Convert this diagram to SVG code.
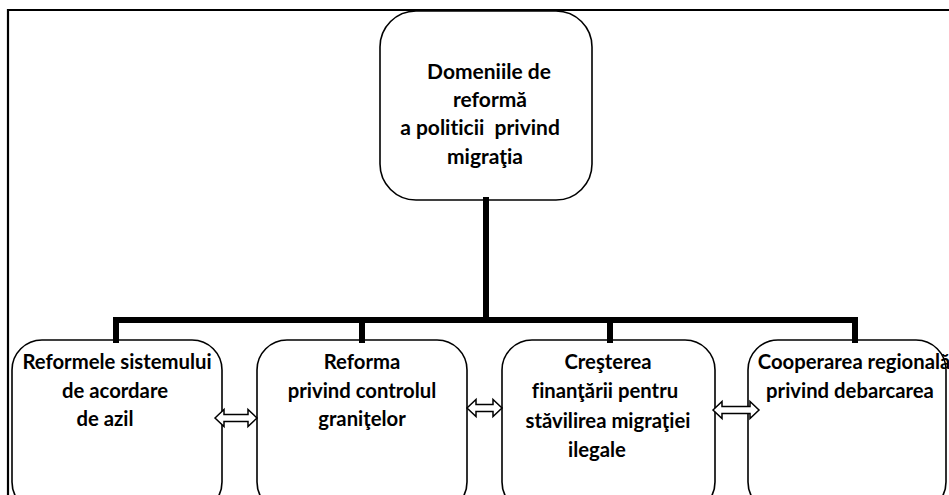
<svg xmlns="http://www.w3.org/2000/svg" width="949" height="495" viewBox="0 0 949 495">
<style>
.box{fill:#fff;stroke:#000;stroke-width:1.6}
.t{font-family:Lato,"Liberation Sans",sans-serif;font-weight:bold;fill:#000;text-anchor:middle;font-variant-ligatures:none;font-feature-settings:"liga" 0,"clig" 0,"dlig" 0}
.top{font-size:21px}
.bot{font-size:20.3px}
.bar{stroke:#000;stroke-width:6;fill:none;stroke-linecap:square}
.dbl{fill:#fff;stroke:#000;stroke-width:1.5;stroke-linejoin:miter}
</style>
<path d="M8,495 V10 H949" fill="none" stroke="#000" stroke-width="2.2"/>
<g id="node-root">
<rect class="box" x="380" y="11" width="212" height="189" rx="36" ry="36"/>
<text class="t top" x="489" y="79">Domeniile de</text>
<text class="t top" x="490" y="107">reformă</text>
<text class="t top" x="480" y="135" xml:space="preserve">a politicii  privind</text>
<text class="t top" x="485" y="164">migraţia</text>
</g>
<g id="node-azil">
<rect class="box" x="12" y="340" width="210" height="172" rx="30" ry="30"/>
<text class="t bot" x="117" y="369">Reformele sistemului</text>
<text class="t bot" x="115" y="398">de acordare</text>
<text class="t bot" x="105" y="426">de azil</text>
</g>
<g id="node-granite">
<rect class="box" x="257" y="340" width="210" height="172" rx="30" ry="30"/>
<text class="t bot" x="362" y="369">Reforma</text>
<text class="t bot" x="362" y="398">privind controlul</text>
<text class="t bot" x="362" y="426">graniţelor</text>
</g>
<g id="node-finantare">
<rect class="box" x="502" y="340" width="213" height="172" rx="30" ry="30"/>
<text class="t bot" x="608" y="369">Creşterea</text>
<text class="t bot" x="605" y="398">finanţării pentru</text>
<text class="t bot" x="608" y="428">stăvilirea migraţiei</text>
<text class="t bot" x="597" y="457">ilegale</text>
</g>
<g id="node-cooperare">
<rect class="box" x="748" y="340" width="198" height="172" rx="30" ry="30"/>
<text class="t bot" x="854" y="369">Cooperarea regională</text>
<text class="t bot" x="850" y="398">privind debarcarea</text>
</g>
<g id="connectors">
<path class="bar" d="M486,200 V320"/>
<path class="bar" d="M116,340 V320 H855 V340"/>
<path class="bar" d="M362,320 V340"/>
<path class="bar" d="M610,320 V340"/>
<path class="dbl" d="M215,418 L224,409.5 L224,414.5 L248,414.5 L248,409.5 L257,418 L248,426.5 L248,421.5 L224,421.5 L224,426.5 Z"/>
<path class="dbl" d="M467,408 L476,399.5 L476,404.5 L493,404.5 L493,399.5 L502,408 L493,416.5 L493,411.5 L476,411.5 L476,416.5 Z"/>
<path class="dbl" d="M713,410 L722,401.5 L722,406.5 L750,406.5 L750,401.5 L759,410 L750,418.5 L750,413.5 L722,413.5 L722,418.5 Z"/>
</g>
</svg>
